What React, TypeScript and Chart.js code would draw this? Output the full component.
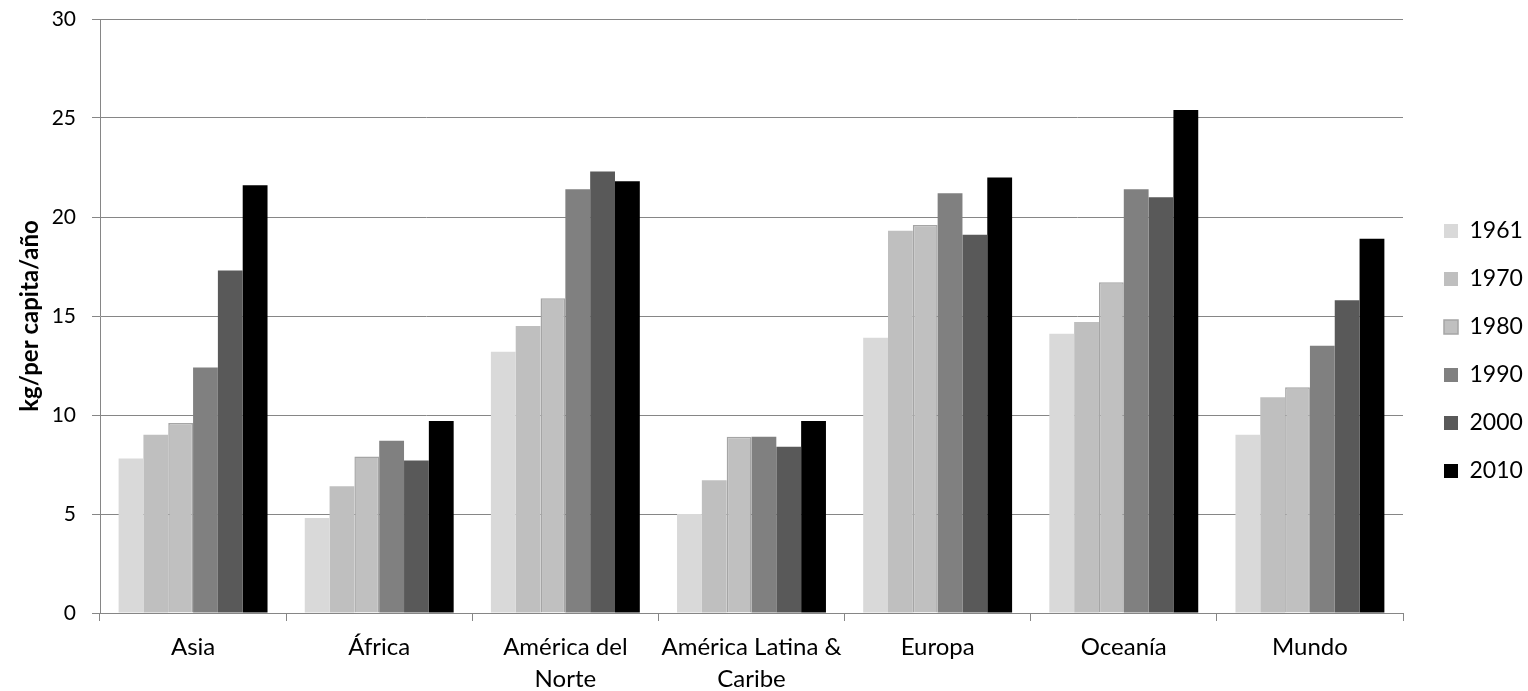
import React, { useEffect, useRef } from "react";
import { Chart, registerables } from "chart.js";

Chart.register(...registerables);

const categories: string[][] = [
  ["Asia"],
  ["África"],
  ["América del", "Norte"],
  ["América Latina &", "Caribe"],
  ["Europa"],
  ["Oceanía"],
  ["Mundo"],
];
const years = ["1961", "1970", "1980", "1990", "2000", "2010"];
const v1961 = [7.8, 4.8, 13.2, 5.0, 13.9, 14.1, 9.0];
const v1970 = [9.0, 6.4, 14.5, 6.7, 19.3, 14.7, 10.9];
const v1980 = [9.6, 7.9, 15.9, 8.9, 19.6, 16.7, 11.4];
const v1990 = [12.4, 8.7, 21.4, 8.9, 21.2, 21.4, 13.5];
const v2000 = [17.3, 7.7, 22.3, 8.4, 19.1, 21.0, 15.8];
const v2010 = [21.6, 9.7, 21.8, 9.7, 22.0, 25.4, 18.9];
const yMin = 0;
const yMax = 30;
const yStep = 5;
const yTitle = "kg/per capita/año";

const seriesValues = [v1961, v1970, v1980, v1990, v2000, v2010];
const fills = ["#d9d9d9", "#bfbfbf", "#c0c0c0", "#808080", "#595959", "#000000"];
const borders = ["#d9d9d9", "#bfbfbf", "#a5a5a5", "#808080", "#595959", "#000000"];
const borderWidths = [0, 0, 1.5, 0, 0, 0];

const FONT = "Lato, 'Open Sans', sans-serif";

const LEGEND_WIDTH = 125;
const LEGEND_BOX_LEFT = 1444;
const LEGEND_FIRST_CENTER = 231;

const legendPlace = {
  id: "legendPlace",
  beforeLayout(chart: any) {
    const l = chart.legend;
    if (!l || l.__patched) return;
    const orig = l.fit.bind(l);
    l.fit = function () {
      orig();
      l.width = LEGEND_WIDTH;
    };
    l.__patched = true;
  },
  afterLayout(chart: any) {
    const l = chart.legend;
    if (!l) return;
    const padding = l.options.labels.padding;
    const dx = LEGEND_BOX_LEFT - (l.left + padding);
    l.left += dx;
    l.right += dx;
    const fontSize = l.options.labels.font.size;
    const itemH = Math.max(fontSize, l.options.labels.boxHeight);
    const colH = l.columnSizes && l.columnSizes[0] ? l.columnSizes[0].height : 0;
    const cursorY = (l.top + padding + l.bottom - colH) / 2;
    const dy = LEGEND_FIRST_CENTER - (cursorY + itemH / 2);
    l.top += dy;
    l.bottom += dy;
  },
};

export default function App() {
  const ref = useRef<HTMLCanvasElement | null>(null);

  useEffect(() => {
    if (!ref.current) return;
    const chart = new Chart(ref.current, {
      type: "bar",
      data: {
        labels: categories,
        datasets: years.map((y, i) => ({
          label: y,
          data: seriesValues[i],
          backgroundColor: fills[i],
          borderColor: borders[i],
          borderWidth: borderWidths[i],
          categoryPercentage: 0.8,
          barPercentage: 1.0,
        })),
      },
      plugins: [legendPlace],
      options: {
        animation: false,
        responsive: true,
        maintainAspectRatio: false,
        layout: { padding: { top: 19, right: 0, bottom: 0, left: 0 } },
        plugins: {
          tooltip: { enabled: false },
          legend: {
            position: "right",
            labels: {
              boxWidth: 14,
              boxHeight: 14,
              padding: 25,
              color: "#000",
              font: { family: FONT, size: 23 },
            },
          },
        },
        scales: {
          x: {
            border: { display: true, color: "#868686", width: 1 },
            grid: {
              display: true,
              offset: true,
              drawOnChartArea: false,
              drawTicks: true,
              tickLength: 8,
              color: "#868686",
            },
            ticks: {
              color: "#000",
              padding: 11,
              maxRotation: 0,
              autoSkip: false,
              font: { family: FONT, size: 24, lineHeight: 1.3 },
            },
            afterFit: (s: any) => {
              s.height = 78;
              s.paddingLeft = 0;
              s.paddingRight = 0;
            },
          },
          y: {
            min: yMin,
            max: yMax,
            border: { display: true, color: "#868686", width: 1 },
            grid: {
              color: "#868686",
              lineWidth: 1,
              tickLength: 8,
              drawTicks: true,
            },
            ticks: {
              stepSize: yStep,
              color: "#000",
              padding: 16,
              font: { family: FONT, size: 21 },
            },
            title: {
              display: true,
              text: yTitle,
              color: "#000",
              padding: { top: 16, bottom: 4 },
              font: { family: FONT, size: 24, weight: "bold" },
            },
            afterFit: (s: any) => {
              s.width = 100;
              s.paddingTop = 0;
              s.paddingBottom = 0;
            },
          },
        },
      },
    });
    return () => chart.destroy();
  }, []);

  return (
    <div style={{ position: "fixed", left: 0, top: 0, width: 1528, height: 691, background: "#fff" }}>
      <canvas ref={ref} />
    </div>
  );
}
